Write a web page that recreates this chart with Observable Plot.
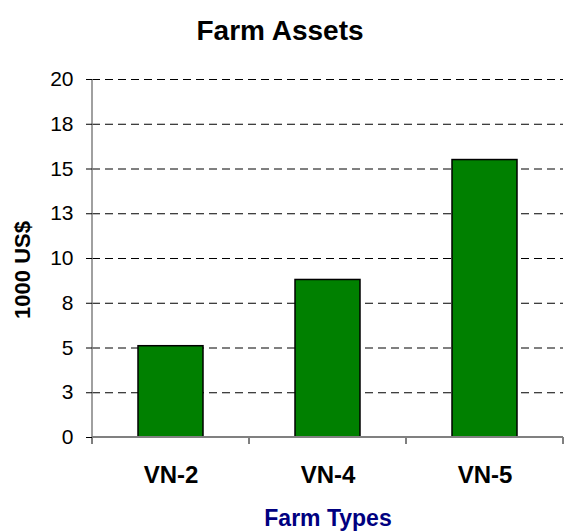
<!DOCTYPE html>
<html><head><meta charset="utf-8">
<script src="https://cdn.jsdelivr.net/npm/d3@7"></script>
<script src="https://cdn.jsdelivr.net/npm/@observablehq/plot@0.6"></script>
<style>body{margin:0;background:#fff} svg{display:block}</style>
</head><body><div id="chart"></div>
<script>
const categories = ["VN-2", "VN-4", "VN-5"];
const assets = [5.1, 8.8, 15.5];
const yTickValues = [0, 2.5, 5, 7.5, 10, 12.5, 15, 17.5, 20];
const chartTitle = "Farm Assets";
const xTitle = "Farm Types";
const yTitle = "1000 US$";

const data = categories.map((c, i) => ({type: c, value: assets[i]}));

function axisLines(index, scales, values, dims) {
  const {marginLeft, marginRight, marginTop, marginBottom, width, height} = dims;
  const y0 = scales.y(0);
  const yTop = scales.y(d3.max(yTickValues));
  const n = categories.length;
  const step = (width - marginLeft - marginRight) / n;
  const g = d3.create("svg:g");
  for (let i = 0; i <= n; i++) {
    const x = marginLeft + i * step;
    g.append("line").attr("x1", x).attr("x2", x).attr("y1", y0).attr("y2", y0 + 7)
      .attr("stroke", "#000").attr("stroke-width", 1);
  }
  g.append("line").attr("x1", marginLeft).attr("x2", width - marginRight)
    .attr("y1", y0).attr("y2", y0).attr("stroke", "#808080").attr("stroke-width", 2);
  g.append("line").attr("x1", marginLeft).attr("x2", marginLeft)
    .attr("y1", yTop).attr("y2", y0).attr("stroke", "#808080").attr("stroke-width", 1.5);
  return g.node();
}

function yLabel(index, scales, values, dims) {
  const {marginTop, marginBottom, height} = dims;
  const cy = (marginTop + height - marginBottom) / 2 + 12;
  const g = d3.create("svg:g");
  g.append("text")
    .attr("transform", `translate(22,${cy}) rotate(-90)`)
    .attr("text-anchor", "middle")
    .attr("dy", "0.35em")
    .attr("font-size", 22)
    .attr("font-weight", "bold")
    .attr("fill", "#000")
    .text(yTitle);
  return g.node();
}

const chart = Plot.plot({
  width: 564,
  height: 531,
  marginTop: 79,
  marginBottom: 94,
  marginLeft: 92,
  marginRight: 1,
  style: {fontFamily: "'Liberation Sans', Arial, sans-serif", background: "#fff", color: "#000"},
  x: {domain: categories, paddingInner: 0.586, paddingOuter: 0.293, axis: null},
  y: {domain: [0, 20], axis: null},
  marks: [
    Plot.ruleY(yTickValues.filter(d => d > 0), {stroke: "#000", strokeWidth: 1, strokeDasharray: "8,5"}),
    Plot.barY(data, {x: "type", y: "value", fill: "#008000", stroke: "#000", strokeWidth: 1.5}),
    axisLines,
    Plot.axisY(yTickValues, {label: null, tickSize: 6, tickPadding: 13, tickFormat: d => String(Math.round(d)), fontSize: 21, stroke: "#000"}),
    Plot.axisX({label: null, tickSize: 0, tickPadding: 28, fontSize: 24, fontWeight: "bold"}),
    Plot.text([chartTitle], {text: d => d, frameAnchor: "top", lineAnchor: "middle", dx: -48, dy: -48, fontSize: 28, fontWeight: "bold", fill: "#000"}),
    Plot.text([xTitle], {text: d => d, frameAnchor: "bottom", lineAnchor: "middle", dy: 81.5, fontSize: 23, fontWeight: "bold", fill: "#000080"}),
    yLabel
  ]
});
document.getElementById("chart").appendChild(chart);
</script>
</body></html>
